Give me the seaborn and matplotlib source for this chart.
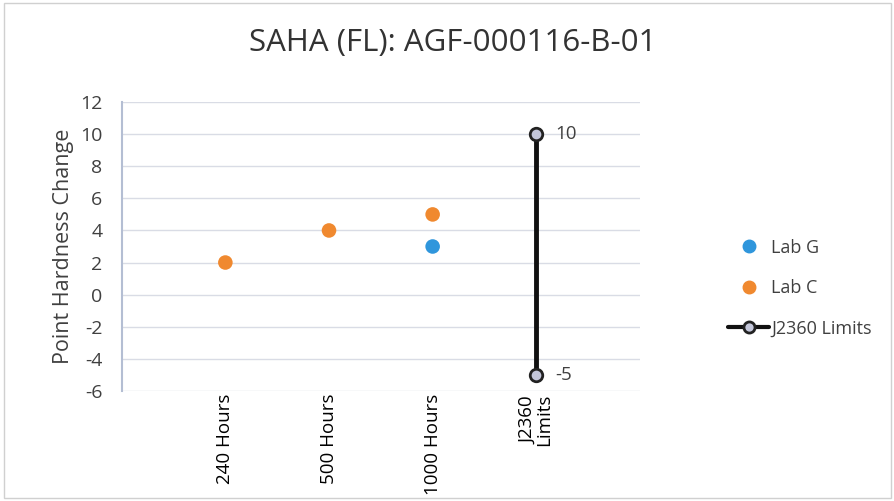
import pandas as pd
import matplotlib.pyplot as plt
import seaborn as sns
from matplotlib.lines import Line2D

# values
categories = ['240 Hours', '500 Hours', '1000 Hours', 'J2360\nLimits']
lab_c_cats = ['240 Hours', '500 Hours', '1000 Hours']
lab_c_vals = [2, 4, 5]
lab_g_cats = ['1000 Hours']
lab_g_vals = [3]
limit_vals = [10, -5]

pos = {c: i + 1 for i, c in enumerate(categories)}

df = pd.DataFrame({
    'cat': lab_g_cats + lab_c_cats,
    'value': lab_g_vals + lab_c_vals,
    'lab': ['Lab G'] * len(lab_g_vals) + ['Lab C'] * len(lab_c_vals),
})
df['x'] = df['cat'].map(pos)
lim = pd.DataFrame({'x': [pos['J2360\nLimits']] * 2, 'value': limit_vals})

sns.set_style('white')
plt.rcParams['font.family'] = ['Open Sans', 'DejaVu Sans']
plt.rcParams['axes.unicode_minus'] = False
text_col = '#404040'

fig = plt.figure(figsize=(8.95, 5.01), dpi=100)
ax = fig.add_axes([0.136, 0.22, 0.579, 0.576])

sns.scatterplot(data=df, x='x', y='value', hue='lab',
                palette={'Lab G': '#2F96DC', 'Lab C': '#F0892F'},
                s=110, edgecolor='none', ax=ax, legend=False, zorder=3)
sns.lineplot(data=lim, x='x', y='value', color='#111111', linewidth=3.5,
             marker='o', markersize=9, markerfacecolor='#C3C6DA',
             markeredgecolor='#222222', markeredgewidth=2,
             ax=ax, estimator=None, sort=False, zorder=4)
for v in limit_vals:
    ax.annotate(str(v), (pos['J2360\nLimits'], v), xytext=(14, 0),
                textcoords='offset points', va='center', ha='left',
                fontsize=13.5, color=text_col)

ax.set_xlim(0, 5)
ax.set_ylim(-6, 12)
ax.set_yticks(range(-6, 13, 2))
ax.set_xticks([pos[c] for c in categories])
ax.set_xticklabels(categories, rotation=90, fontsize=13.5, color='black',
                   linespacing=0.9)
ax.tick_params(axis='y', labelsize=14, labelcolor=text_col, length=0, pad=14)
ax.tick_params(axis='x', length=0, pad=2)
ax.grid(axis='y', color='#D9DCE5', linewidth=1)
for s in ['top', 'right', 'bottom']:
    ax.spines[s].set_visible(False)
ax.spines['left'].set_color('#B4BED3')
ax.spines['left'].set_linewidth(1.5)
ax.set_xlabel('')
ax.set_ylabel('Point Hardness Change', fontsize=15.5, color=text_col, labelpad=4)

fig.suptitle('SAHA (FL): AGF-000116-B-01', fontsize=22.5, color='#333333',
             x=0.506, y=0.945)

handles = [
    Line2D([], [], linestyle='none', marker='o', markersize=9,
           color='#2F96DC', label='Lab G'),
    Line2D([], [], linestyle='none', marker='o', markersize=9,
           color='#F0892F', label='Lab C'),
    Line2D([], [], color='#111111', linewidth=3, marker='o', markersize=8,
           markerfacecolor='#C3C6DA', markeredgecolor='#222222',
           markeredgewidth=2, label='J2360 Limits'),
]
fig.legend(handles=handles, loc='center left', bbox_to_anchor=(0.795, 0.425),
           frameon=False, fontsize=13, labelspacing=1.25, handlelength=2.3,
           handletextpad=0.1, labelcolor=text_col)

fig.patches.append(plt.Rectangle((0.005, 0.005), 0.99, 0.99, fill=False,
                                 edgecolor='#D0D0D0', linewidth=1,
                                 transform=fig.transFigure))

fig.savefig('out.png', dpi=100)
